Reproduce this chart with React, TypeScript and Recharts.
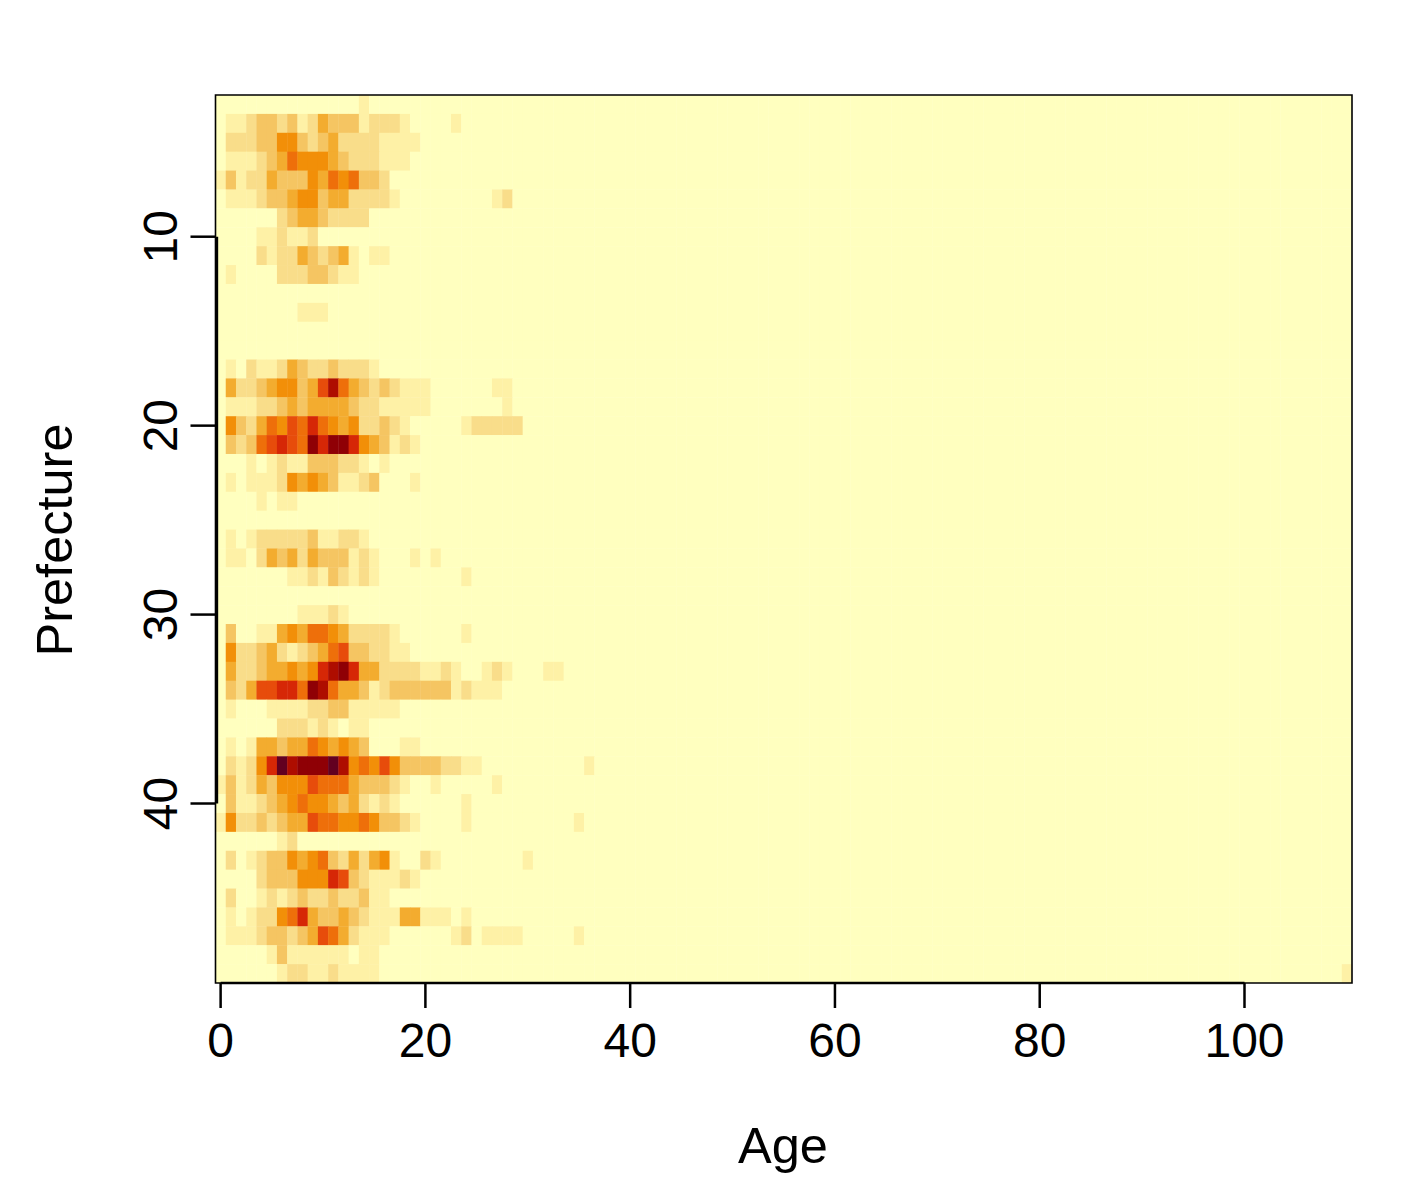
import React from "react";
import { ScatterChart, Scatter, XAxis, YAxis, ReferenceArea, ReferenceLine } from "recharts";

const FONT = "'Liberation Sans', Arial, Helvetica, sans-serif";
const CHART_W = 1417;
const CHART_H = 1181;
const MARGIN = { top: 95, right: 65, bottom: 138, left: 125.5 };
const AXIS_W = 90;
const AXIS_H = 60;
const AGE_COUNT = 111;
const FIRST_PREFECTURE = 3;
const LAST_PREFECTURE = 49;
const PLOT_W = CHART_W - MARGIN.left - MARGIN.right - AXIS_W;
const PLOT_H = CHART_H - MARGIN.top - MARGIN.bottom - AXIS_H;
const CELL_W = PLOT_W / AGE_COUNT;
const CELL_H = PLOT_H / (LAST_PREFECTURE - FIRST_PREFECTURE + 1);

const palette = ["#FFFFBF", "#FEF1A6", "#F9DD8A", "#F5C562", "#F3AC2F", "#F28F08", "#EE6F0A", "#E74C0B", "#D62706", "#AE0D00", "#8F0005", "#620020"];
const xTicks = [0, 20, 40, 60, 80, 100];
const yTicks = [10, 20, 30, 40];

// Level of each age (index = age) for prefectures 3..49; omitted trailing ages are 0.
const p3 = [0,0,0,0,0,0,0,0,0,0,0,0,0,0,1];
const p4 = [0,1,1,2,3,3,2,3,1,2,4,3,3,3,1,2,2,2,1,0,0,0,0,1];
const p5 = [0,2,2,2,3,3,5,5,3,2,3,4,2,2,2,2,1,1,1,1];
const p6 = [0,1,1,1,2,3,4,6,5,5,5,4,3,2,2,2,1,1,1];
const p7 = [1,3,1,2,2,4,3,3,3,5,4,6,5,6,3,3,2];
const p8 = [0,1,1,1,2,3,3,4,5,5,3,4,4,2,2,2,2,1,0,0,0,0,0,0,0,0,0,1,2];
const p9 = [0,0,0,0,0,0,2,3,4,4,3,2,2,2,2];
const p10 = [0,0,0,0,1,1,2,1,1,2];
const p11 = [0,0,0,0,2,1,2,2,4,3,2,3,4,1,0,1,1];
const p12 = [0,1,0,0,0,0,2,2,2,3,3,2,1,1];
const p13: number[] = [];
const p14 = [0,0,0,0,0,0,0,0,1,1,1];
const p15: number[] = [];
const p16: number[] = [];
const p17 = [0,1,0,2,1,1,2,4,3,2,2,3,2,2,2,1];
const p18 = [0,4,2,2,3,4,5,5,3,4,7,9,6,4,3,2,3,2,1,1,1,0,0,0,0,0,0,1,1];
const p19 = [0,1,1,1,2,2,3,4,3,4,4,4,4,3,2,2,1,1,1,1,1,0,0,0,0,0,0,0,1];
const p20 = [0,5,3,2,4,6,5,7,6,8,6,5,4,5,2,2,3,2,1,0,0,0,0,0,1,2,2,2,2,2];
const p21 = [0,3,2,3,6,7,8,7,6,10,8,10,10,8,5,4,3,1,2,1];
const p22 = [0,0,0,1,0,1,2,1,1,3,3,3,2,2,1,0,1];
const p23 = [0,1,0,1,1,1,2,5,4,5,4,3,1,1,2,3,0,0,0,1];
const p24 = [0,0,0,0,1,0,1,1];
const p25: number[] = [];
const p26 = [0,1,0,1,2,2,2,2,2,3,1,1,2,2,1];
const p27 = [0,1,1,0,2,4,3,4,2,4,3,3,3,1,2,1,0,0,0,1,0,1];
const p28 = [0,0,0,0,0,0,0,1,1,2,1,3,2,1,2,1,0,0,0,0,0,0,0,0,1];
const p29: number[] = [];
const p30 = [0,0,0,0,0,0,0,0,1,1,1,2,1];
const p31 = [0,3,0,0,1,1,4,5,4,6,6,5,4,2,2,2,2,1,0,0,0,0,0,0,1];
const p32 = [0,5,2,2,3,4,2,1,2,3,4,6,7,3,3,2,2,1,1];
const p33 = [0,4,2,2,3,4,4,5,4,5,8,9,10,8,4,4,2,2,2,2,1,1,2,1,0,0,1,2,1,0,0,0,1,1];
const p34 = [0,3,2,4,7,7,8,8,6,10,9,6,4,4,3,1,2,3,3,3,3,3,3,1,2,1,1,1];
const p35 = [0,1,0,0,0,1,1,1,1,2,2,3,3,1,1,1,1,1];
const p36 = [0,0,0,0,0,0,2,2,2,1,2,1,0,1,1];
const p37 = [0,1,0,1,4,4,3,4,4,6,5,4,5,4,3,0,0,0,1,1];
const p38 = [0,2,1,2,5,8,11,9,10,10,10,11,9,5,6,5,7,5,3,3,3,3,2,2,1,1,0,0,0,0,0,0,0,0,0,0,1];
const p39 = [1,3,1,2,4,3,5,5,5,7,6,6,6,4,3,3,3,2,1,0,0,1,0,0,0,0,0,1];
const p40 = [0,3,1,1,2,3,4,5,6,5,5,4,3,4,2,1,2,1,0,0,0,0,0,0,1];
const p41 = [1,5,2,2,3,2,3,4,4,7,6,6,5,5,6,5,3,3,2,1,0,0,0,0,1,0,0,0,0,0,0,0,0,0,0,1];
const p42 = [0,0,0,0,0,0,1,2];
const p43 = [0,2,0,1,2,3,3,5,4,5,6,3,2,4,2,4,5,1,0,0,2,1,0,0,0,0,0,0,0,0,1];
const p44 = [0,0,0,0,2,3,3,3,5,5,5,8,7,3,2,1,1,1,2,1];
const p45 = [0,2,0,0,1,2,1,2,3,2,2,3,2,2,3,1,1];
const p46 = [0,1,0,1,2,2,5,6,8,4,3,3,4,3,2,1,1,1,4,4,1,1,1,0,1];
const p47 = [0,1,1,1,2,3,3,2,3,4,7,6,4,2,1,1,1,0,0,0,0,0,0,1,2,0,1,1,1,1,0,0,0,0,0,1];
const p48 = [0,0,0,0,0,1,3,1,1,1,1,1,1,0,1,1];
const p49 = [0,0,0,0,0,0,1,2,2,1,1,2,1,1,1,1];
const oldAgeCells = [{ age: 110, prefecture: 49, level: 1 }];

const rows = [p3,p4,p5,p6,p7,p8,p9,p10,p11,p12,p13,p14,p15,p16,p17,p18,p19,p20,p21,p22,p23,p24,p25,p26,p27,p28,p29,p30,p31,p32,p33,p34,p35,p36,p37,p38,p39,p40,p41,p42,p43,p44,p45,p46,p47,p48,p49];

const cells: { age: number; prefecture: number; level: number }[] = [];
rows.forEach((row, r) => {
  const prefecture = FIRST_PREFECTURE + r;
  for (let age = 0; age < AGE_COUNT; age++) {
    const extra = oldAgeCells.find((c) => c.age === age && c.prefecture === prefecture);
    cells.push({ age, prefecture, level: extra ? extra.level : row[age] ?? 0 });
  }
});

const CellShape = (props: any) => (
  <rect
    x={props.cx - CELL_W / 2}
    y={props.cy - CELL_H / 2}
    width={CELL_W + 0.4}
    height={CELL_H + 0.4}
    fill={palette[props.payload.level]}
    stroke="none"
  />
);

const XTick = (props: any) => (
  <text x={props.x} y={1057} textAnchor="middle" fontFamily={FONT} fontSize={48} fill="#000">
    {props.payload.value}
  </text>
);

const YTick = (props: any) => (
  <text
    x={177.5}
    y={props.y}
    textAnchor="middle"
    fontFamily={FONT}
    fontSize={48}
    fill="#000"
    transform={`rotate(-90 177.5 ${props.y})`}
  >
    {props.payload.value}
  </text>
);

const AgeTitle = () => (
  <text x={783} y={1163} textAnchor="middle" fontFamily={FONT} fontSize={50.5} fill="#000">Age</text>
);
const PrefectureTitle = () => (
  <text x={72} y={540} textAnchor="middle" fontFamily={FONT} fontSize={50.5} fill="#000" transform="rotate(-90 72 540)">Prefecture</text>
);

export default function App() {
  return (
    <div style={{ position: "absolute", left: 0, top: 0, width: CHART_W, height: CHART_H, background: "#fff" }}>
      <ScatterChart width={CHART_W} height={CHART_H} margin={MARGIN}>
        <XAxis
          type="number"
          dataKey="age"
          domain={[-0.5, 110.5]}
          ticks={xTicks}
          interval={0}
          height={AXIS_H}
          allowDataOverflow
          axisLine={false}
          tickSize={25}
          tickLine={{ stroke: "#000", strokeWidth: 2.5 }}
          tick={<XTick />}
          label={<AgeTitle />}
        />
        <YAxis
          type="number"
          dataKey="prefecture"
          domain={[2.5, 49.5]}
          reversed
          ticks={yTicks}
          interval={0}
          width={AXIS_W}
          allowDataOverflow
          axisLine={false}
          tickSize={25}
          tickLine={{ stroke: "#000", strokeWidth: 2.5 }}
          tick={<YTick />}
          label={<PrefectureTitle />}
        />
        <Scatter data={cells} shape={<CellShape />} isAnimationActive={false} />
        <ReferenceArea x1={-0.5} x2={110.5} y1={2.5} y2={49.5} fill="none" stroke="#000" strokeWidth={1.6} ifOverflow="visible" zIndex={900} />
        <ReferenceLine segment={[{ x: 0, y: 49.5 }, { x: 100, y: 49.5 }]} stroke="#000" strokeWidth={2.5} ifOverflow="visible" zIndex={900} />
        <ReferenceLine segment={[{ x: -0.36, y: 10 }, { x: -0.36, y: 40 }]} stroke="#000" strokeWidth={2.5} ifOverflow="visible" zIndex={900} />
      </ScatterChart>
    </div>
  );
}
